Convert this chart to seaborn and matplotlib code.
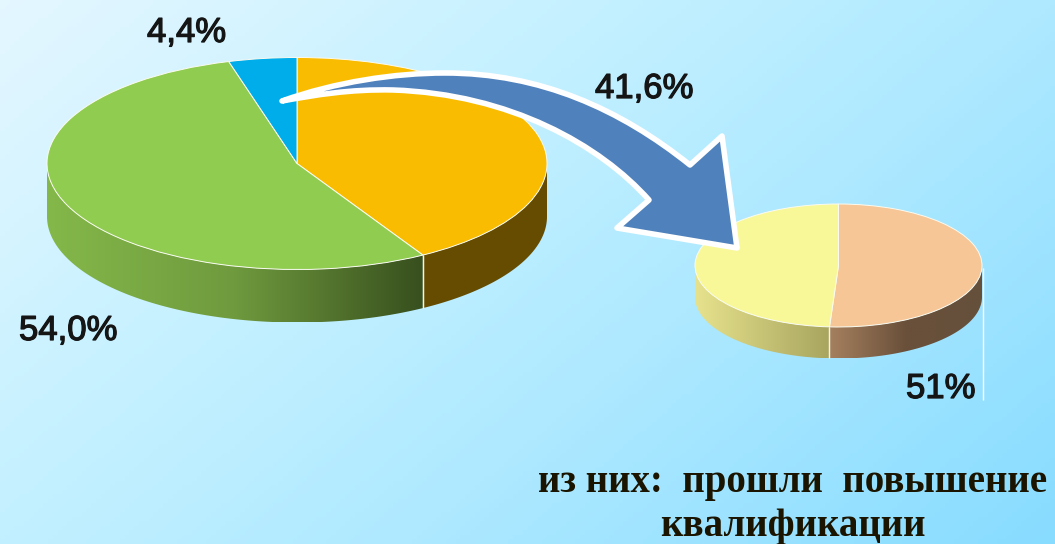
import numpy as np
import seaborn as sns
import matplotlib
matplotlib.use("Agg")
import matplotlib.pyplot as plt
import matplotlib.patheffects as pe
from matplotlib.path import Path
from matplotlib.patches import PathPatch, Polygon
from matplotlib.colors import LinearSegmentedColormap, ListedColormap

# ---- data ----
main_labels = ["41,6%", "54,0%", "4,4%"]
main_values = [41.6, 54.0, 4.4]
main_colors = ["#F9BC00", "#8FCC50", "#00ADEB"]
main_side = [["#664C00", "#664C00"], ["#84B84A", "#6F9A3E", "#38501E"], ["#0090C0", "#0090C0"]]

sub_labels = ["51%", "49%"]
sub_values = [51, 49]
sub_colors = ["#F7C697", "#F8F898"]
sub_side = [["#A5805F", "#6A503A", "#65503C"], ["#E6E28C", "#A8A560"]]

caption_1 = "из них:  прошли  повышение"
caption_2 = "квалификации"

W, H = 1055, 544
sns.set_theme(style="white")
plt.rcParams["font.family"] = ["Liberation Sans", "DejaVu Sans"]

fig = plt.figure(figsize=(W / 100, H / 100), dpi=100)

# background
bg = fig.add_axes([0, 0, 1, 1], zorder=0)
yy, xx = np.mgrid[0:1:120j, 0:1:220j]
t = 0.62 * xx + 0.38 * yy
cmap = LinearSegmentedColormap.from_list(
    "bg", [(0, "#E4F7FF"), (0.38, "#C2F0FF"), (0.62, "#AEE9FF"), (1, "#88DCFF")])
bg.imshow(t, cmap=cmap, extent=(0, W, H, 0), aspect="auto", vmin=0, vmax=1)
bg.set_axis_off()


def draw_pie(values, colors, sides, cx, cy, rx, ry, depth, z):
    m = 1.04
    d = depth / ry
    x0, x1 = cx - rx * m, cx + rx * m
    ytop, ybot = cy - ry * m, cy + ry * m + depth
    ax = fig.add_axes([x0 / W, 1 - ybot / H, (x1 - x0) / W, (ybot - ytop) / H], zorder=z)
    ax.patch.set_alpha(0)
    # side wall
    frac = np.cumsum([0] + list(values)) / np.sum(values)
    ang = 90 - 360 * frac  # clockwise from the top
    for i in range(len(values)):
        ts = np.linspace(np.radians(ang[i]), np.radians(ang[i + 1]), 400)
        ts = ts[np.sin(ts) <= 0.0]
        if len(ts) < 2:
            continue
        xs, ys = np.cos(ts), np.sin(ts)
        wall = np.column_stack([np.r_[xs, xs[::-1]], np.r_[ys, ys[::-1] - d]])
        pal = sns.blend_palette(sides[i], 128)
        im = ax.imshow(np.linspace(0, 1, 128)[None, :], cmap=ListedColormap(pal),
                       extent=(xs.min(), xs.max(), -1 - d, 0), aspect="auto",
                       origin="lower", interpolation="bilinear", zorder=1)
        clip = Polygon(wall, closed=True, transform=ax.transData, fc="none", ec="none")
        ax.add_patch(clip)
        im.set_clip_path(clip)
        # seam
        for edge in (ts[0], ts[-1]):
            if abs(np.cos(edge)) < 0.98:
                ax.plot([np.cos(edge)] * 2, [np.sin(edge), np.sin(edge) - d],
                        color="#F2F2E6", lw=0.9, solid_capstyle="butt", zorder=2)
    wedges, _ = ax.pie(values, colors=colors, startangle=90, counterclock=False, radius=1,
                       wedgeprops=dict(edgecolor="#FBFBF0", linewidth=0.7))
    for w in wedges:
        w.set_zorder(3)
    ax.set_aspect("auto")
    ax.set_xlim(-m, m)
    ax.set_ylim(-m - d, m)
    ax.set_axis_off()
    return ax


draw_pie(main_values, main_colors, main_side, 297, 163.5, 250, 106, 53, 1)
draw_pie(sub_values, sub_colors, sub_side, 838.5, 265.5, 143.5, 61.5, 31.5, 1)

# overlay in pixel coordinates
ov = fig.add_axes([0, 0, 1, 1], zorder=3)
ov.set_xlim(0, W)
ov.set_ylim(H, 0)
ov.patch.set_alpha(0)
ov.set_axis_off()

# leader line
ov.plot([983, 983], [268, 400], color="white", lw=1.0, solid_capstyle="butt")

# curved arrow
verts = [(282, 101),
         (335, 82), (395, 73), (445, 73),
         (540, 73), (620, 109), (690, 165),
         (722, 136), (737, 248), (617, 228), (649, 200),
         (600, 145), (510, 94), (393, 90),
         (350, 89), (315, 95), (282, 101), (282, 101)]
codes = [Path.MOVETO,
         Path.CURVE4, Path.CURVE4, Path.CURVE4,
         Path.CURVE4, Path.CURVE4, Path.CURVE4,
         Path.LINETO, Path.LINETO, Path.LINETO, Path.LINETO,
         Path.CURVE4, Path.CURVE4, Path.CURVE4,
         Path.CURVE4, Path.CURVE4, Path.CURVE4, Path.CLOSEPOLY]
ov.add_patch(PathPatch(Path(verts, codes), facecolor="#4F81BD", edgecolor="white",
                       linewidth=4.0, joinstyle="round"))

# labels
stroke = [pe.withStroke(linewidth=0.9, foreground="#151515")]
lab = dict(fontsize=25, color="#151515", ha="left", va="baseline",
           family="Liberation Sans", path_effects=stroke)
ov.text(147, 42, main_labels[2], **lab)
ov.text(595, 98, main_labels[0], **lab)
ov.text(19, 340, main_labels[1], **lab)
ov.text(906, 398, sub_labels[0], **lab)

cap = dict(fontsize=28, color="#1A1400", ha="center", va="baseline",
           family="Liberation Serif", fontweight="bold")
ov.text(792.5, 492, caption_1, **cap)
ov.text(792.5, 536, caption_2, **cap)

fig.savefig("out.png", dpi=100)
